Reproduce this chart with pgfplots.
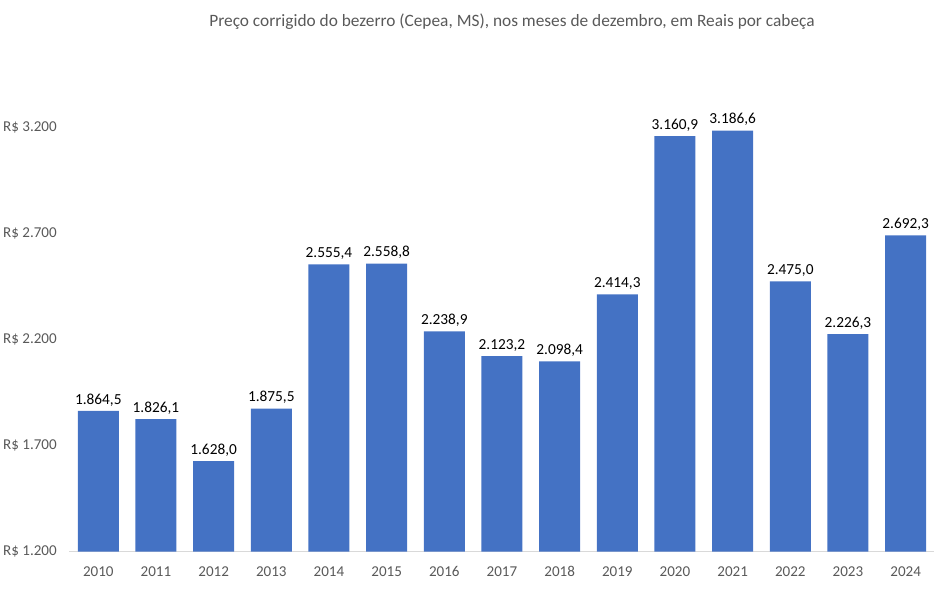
\documentclass[border=0pt]{standalone}
\usepackage{fontspec}
\setmainfont{Carlito}
\usepackage{pgfplots}
\pgfplotsset{compat=1.18}
\definecolor{barblue}{HTML}{4472C4}
\definecolor{txtgray}{HTML}{595959}
\definecolor{linegray}{HTML}{D9D9D9}
\begin{document}
\begin{tikzpicture}
\begin{axis}[
    at={(0,0)}, anchor=south west,
    scale only axis,
    width=648.75pt, height=397.5pt,
    xmin=-0.5, xmax=14.5,
    ymin=1200, ymax=3700,
    clip mode=individual,
    axis x line=bottom, axis y line=left,
    x axis line style={-, draw=linegray, line width=0.75pt},
    y axis line style={draw=none},
    major tick length=0pt,
    tick style={draw=none},
    xtick={0,...,14},
    xticklabels={2010,2011,2012,2013,2014,2015,2016,2017,2018,2019,2020,2021,2022,2023,2024},
    ytick={1200,1700,2200,2700,3200},
    yticklabels={R\$ 1.200,R\$ 1.700,R\$ 2.200,R\$ 2.700,R\$ 3.200},
    ticklabel style={font=\fontsize{11.3}{13.5}\selectfont, text=txtgray},
    x tick label style={yshift=-8.4pt, text height=0.63em, text depth=0pt},
    y tick label style={xshift=-6pt, text height=0.63em, text depth=0pt},
    ybar, bar width=30.75pt,
    nodes near coords={\pgfmathprintnumber[fixed, fixed zerofill, precision=1, use comma, 1000 sep={.}, assume math mode=true]{\pgfplotspointmeta}},
    every node near coord/.append style={font=\fontsize{11.5}{13.8}\selectfont, text=black},
]
\addplot[fill=barblue, draw=none] coordinates {
    (0,1864.5) (1,1826.1) (2,1628.0) (3,1875.5) (4,2555.4)
    (5,2558.8) (6,2238.9) (7,2123.2) (8,2098.4) (9,2414.3)
    (10,3160.9) (11,3186.6) (12,2475.0) (13,2226.3) (14,2692.3)
};
\end{axis}
\node[text=txtgray, font=\fontsize{13}{15.6}\selectfont] at (331.9pt,397.3pt)
    {Preço corrigido do bezerro (Cepea, MS), nos meses de dezembro, em Reais por cabeça};
\pgfresetboundingbox
\useasboundingbox (-52.1pt,-28.7pt) rectangle (658.9pt,413.8pt);
\end{tikzpicture}
\end{document}
